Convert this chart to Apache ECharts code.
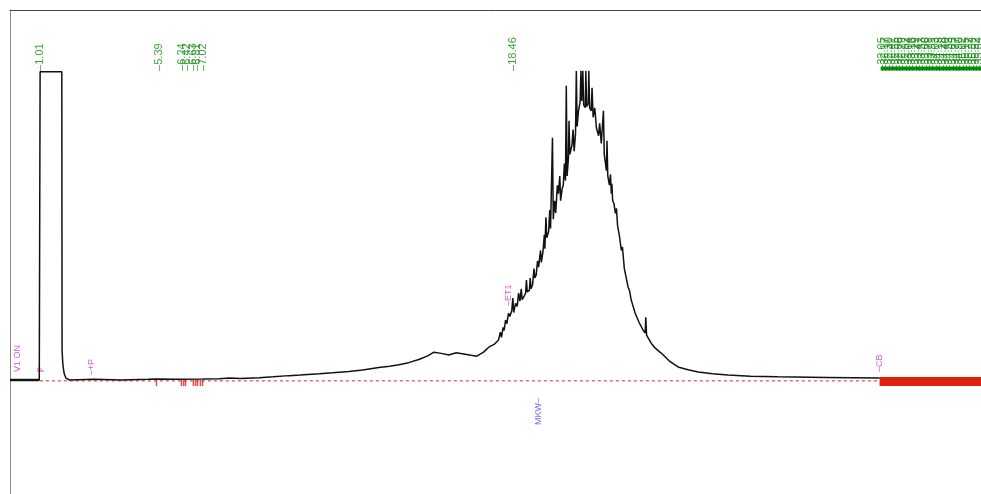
<!DOCTYPE html>
<html>
<head>
<meta charset="utf-8">
<script src="https://cdn.jsdelivr.net/npm/echarts@6/dist/echarts.min.js"></script>
<style>
    html, body {margin: 0; padding: 0; background: #fff;}
    #chart {width: 981px; height: 494px;}
</style>
</head>
<body>
<div id="chart"></div>
<script>
    // 色谱图: [保留时间(min), 信号]
    var trace = [
        [-0.10, 0], [0.98, 0], [1.00, 0.5], [1.01, 99.7], [1.81, 99.7], [1.82, 9.7], [1.85, 4.8],
        [1.90, 2.0], [1.96, 0.6], [2.10, 0], [3.00, 0.2], [4.00, 0], [5.00, 0.2], [5.30, 0.3], [6.00, 0.2],
        [7.00, 0.3], [7.62, 0.4], [8.00, 0.6], [8.40, 0.5], [9.09, 0.7], [9.60, 1.0], [10.19, 1.4],
        [10.60, 1.6], [11.30, 2.0], [11.80, 2.3], [12.40, 2.7], [12.90, 3.2], [13.50, 4.0], [13.90, 4.4],
        [14.24, 4.9], [14.60, 5.6], [14.97, 6.6], [15.30, 7.8], [15.53, 9.0], [15.80, 8.6], [16.08, 8.1],
        [16.35, 8.8], [16.63, 8.4], [16.90, 8.0], [17.11, 7.7], [17.36, 9.0], [17.55, 10.6], [17.75, 11.5],
        [17.91, 12.9], [17.98, 15.5], [18.02, 13.8], [18.08, 17.0], [18.12, 16.0], [18.17, 19.4],
        [18.22, 18.2], [18.28, 21.6], [18.33, 20.5], [18.40, 22.5], [18.44, 26.5], [18.47, 21.8],
        [18.54, 24.8], [18.60, 23.8], [18.65, 28.1], [18.70, 25.5], [18.75, 29.5], [18.78, 26.0],
        [18.85, 27.0], [18.91, 28.1], [18.94, 32.3], [18.97, 28.5], [19.05, 29.0], [19.08, 33.0],
        [19.11, 29.5], [19.17, 31.0], [19.22, 36.0], [19.25, 33.0], [19.30, 34.0], [19.35, 38.5],
        [19.39, 36.5], [19.46, 41.9], [19.49, 38.0], [19.55, 41.5], [19.60, 47.0], [19.62, 42.5],
        [19.66, 52.6], [19.69, 46.0], [19.76, 48.0], [19.80, 55.0], [19.83, 49.0], [19.86, 49.4],
        [19.90, 78.4], [19.93, 52.0], [19.98, 58.0], [20.02, 54.0], [20.08, 63.0], [20.12, 60.3],
        [20.17, 66.0], [20.20, 58.0], [20.26, 62.0], [20.30, 63.0], [20.34, 70.0], [20.38, 64.5],
        [20.41, 95.2], [20.44, 66.0], [20.49, 71.9], [20.51, 83.9], [20.54, 73.0], [20.62, 76.0],
        [20.66, 81.0], [20.70, 74.0], [20.75, 79.7], [20.78, 100], [20.81, 82.0], [20.86, 87.1],
        [20.92, 90.0], [20.95, 100], [20.98, 90.3], [21.02, 100], [21.05, 89.0], [21.11, 88.1],
        [21.13, 100], [21.16, 88.5], [21.22, 89.4], [21.24, 100], [21.27, 88.0], [21.33, 87.1],
        [21.36, 94.5], [21.40, 85.0], [21.46, 88.0], [21.52, 81.6], [21.60, 79.0], [21.64, 83.0],
        [21.70, 76.5], [21.78, 87.1], [21.81, 73.0], [21.89, 67.7], [21.91, 77.4], [21.94, 66.0],
        [22.00, 63.0], [22.04, 66.5], [22.07, 60.3], [22.09, 63.5], [22.12, 58.0], [22.17, 57.0],
        [22.22, 53.9], [22.26, 55.5], [22.30, 50.0], [22.37, 46.5], [22.44, 41.9], [22.48, 43.0],
        [22.55, 36.0], [22.62, 33.0], [22.69, 30.0], [22.74, 29.0], [22.80, 26.0], [22.95, 21.6],
        [23.10, 18.5], [23.25, 16.0], [23.32, 15.2], [23.34, 20.3], [23.37, 14.5], [23.54, 11.9],
        [23.70, 10.2], [23.91, 8.7], [24.20, 6.2], [24.53, 4.2], [24.90, 3.3], [25.27, 2.6], [25.80, 2.0],
        [26.37, 1.6], [27.20, 1.2], [28.21, 1.0], [30.00, 0.8], [31.96, 0.6]
    ];

    // 峰保留时间标注
    var peakTimes = [1.01, 5.39, 6.24, 6.42, 6.63, 6.81, 7.02, 18.46,
        32.05, 32.17, 32.30, 32.41, 32.55, 32.66, 32.79, 32.92, 33.04, 33.16, 33.29, 33.41, 33.53, 33.66,
        33.78, 33.91, 34.03, 34.15, 34.28, 34.40, 34.53, 34.65, 34.77, 34.90, 35.02, 35.15, 35.27, 35.39,
        35.52, 35.64];
    var peakTop = 100;

    // 事件标注
    var eventNames = ['V1 ON', 'p', '+P', 'ET1', 'CB'];
    var eventTimes = [0.19, 1.00, 2.91, 18.28, 31.96];
    var eventLevels = [2.6, 2.6, 1.5, 23.9, 2.6];
    var markName = 'MKW';
    var markTime = 19.38;
    var markLevel = -5.8;

    // 积分基线
    var baseStart = 1.00;
    var baseEnd = 31.96;
    var runEnd = 35.70;
    var cutTimes = [5.30, 6.22, 6.30, 6.37, 6.66, 6.74, 6.81, 6.92, 7.00];

    var vText = function (color, align, size) {
        return {
            show: true,
            position: 'inside',
            rotate: 90,
            align: align,
            verticalAlign: 'middle',
            color: color,
            fontSize: size,
            fontFamily: 'Liberation Sans',
            formatter: function (p) {
                return p.data[2];
            }
        };
    };

    var option = {
        animation: false,
        backgroundColor: '#fff',
        grid: {left: 10, right: 0, top: 10, bottom: 0},
        xAxis: {
            type: 'value',
            position: 'top',
            min: -0.1,
            max: runEnd,
            axisLine: {show: true, onZero: false, lineStyle: {color: '#444', width: 1}},
            axisTick: {show: false},
            axisLabel: {show: false},
            splitLine: {show: false}
        },
        yAxis: {
            type: 'value',
            min: -36.9,
            max: 119.7,
            axisLine: {show: true, onZero: false, lineStyle: {color: '#888', width: 1}},
            axisTick: {show: false},
            axisLabel: {show: false},
            splitLine: {show: false}
        },
        series: [{
            type: 'line',
            data: [[baseStart, -0.3], [baseEnd, -0.3]],
            symbol: 'none',
            lineStyle: {color: '#e02020', width: 1, type: [3, 3]}
        }, {
            type: 'line',
            data: [[baseEnd, -0.5], [runEnd, -0.5]],
            symbol: 'none',
            lineStyle: {color: '#e02010', width: 9}
        }, {
            type: 'scatter',
            data: cutTimes.map(function (t) { return [t, -1]; }),
            symbol: 'rect',
            symbolSize: [1.5, 6],
            itemStyle: {color: '#e02020'}
        }, {
            type: 'line',
            data: [[-0.1, 0], [0.98, 0]],
            symbol: 'none',
            lineStyle: {color: '#222', width: 2.5}
        }, {
            type: 'line',
            data: trace,
            symbol: 'none',
            lineStyle: {color: '#111', width: 1.5}
        }, {
            type: 'line',
            data: [[peakTimes[8] - 0.05, 100.8], [runEnd, 100.8]],
            symbol: 'none',
            lineStyle: {color: '#0a8a0a', width: 4}
        }, {
            type: 'scatter',
            symbolSize: 0,
            data: peakTimes.map(function (t) { return [t, peakTop, '\u2013' + t.toFixed(2)]; }),
            label: vText('#108a10', 'left', 11)
        }, {
            type: 'scatter',
            symbolSize: 0,
            data: eventNames.map(function (n, i) {
                return [eventTimes[i], eventLevels[i], (i < 2 ? '' : '\u2013') + n];
            }),
            label: vText('#d030d0', 'left', 9)
        }, {
            type: 'scatter',
            symbolSize: 0,
            data: [[markTime, markLevel, markName + '\u2013']],
            label: vText('#4a4af0', 'right', 9)
        }]
    };

    var chart = echarts.init(document.getElementById('chart'));
    chart.setOption(option);
</script>
</body>
</html>
